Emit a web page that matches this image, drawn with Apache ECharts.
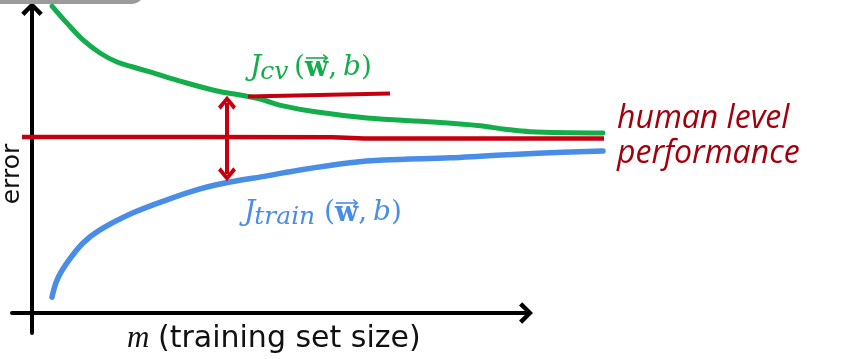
<!DOCTYPE html>
<html>
<head>
<meta charset="utf-8">
<script src="https://cdn.jsdelivr.net/npm/echarts@6/dist/echarts.min.js"></script>
<style>html,body{margin:0;padding:0;background:#fff;}#c{width:855px;height:359px;}</style>
</head>
<body>
<div id="c"></div>
<script>
// ---- data (arbitrary units: x = training set size, y = error) ----
const cvX    = [4, 7, 10.2, 13.6, 17, 20.2, 23.6, 30.2, 37, 41.6, 45.6, 50.2, 57, 67, 80.2, 89.6, 94.6, 99.6, 114.2];
const cvY    = [98.7, 93.2, 87.8, 83.6, 80.7, 79.1, 77.5, 74.3, 71.4, 70.1, 68.8, 66.6, 64.6, 62.7, 61.4, 60.2, 59.1, 58.3, 57.9];
const trainX = [4, 5, 7, 10.2, 13.6, 20.2, 27, 33.6, 39.6, 47, 53.6, 63.6, 70.2, 83.6, 89.6, 96.2, 106.2, 114.2];
const trainY = [5.1, 10.6, 16.1, 22.5, 26.7, 32.2, 36.4, 39.9, 42.1, 44.1, 46.0, 48.3, 49.2, 49.9, 50.4, 51.0, 51.7, 52.1];
const humanX = [-2, 60, 68, 114.4];
const humanY = [56.6, 56.5, 56.1, 56.1];
const cvMarkX = [43.2, 71.6];
const cvMarkY = [69.6, 70.6];
const gapX = 39;
const gapTop = 67.6;
const gapBottom = 44.6;

const subCv = 'cv';
const subTrain = 'train';
const labelHuman = ['human level', 'performance'];
const labelY = 'error';
const labelXVar = 'm';
const labelX = '(training set size)';

// ---- layout helpers ----
const X0 = 32, SX = 5;       // pixel of x=0, px per unit
const Y0 = 313, SY = 3.11;   // pixel of y=0, px per unit
const ux = p => (p - X0) / SX;
const uy = p => (Y0 - p) / SY;

const GREEN = '#14ad4b', BLUE = '#4a8de6', RED = '#c40010', DARKRED = '#a3000e';
const chevron = 'path://M0,10 L10,0 L20,10 L17,13 L10,5.5 L3,13 Z';
const pairs = (xs, ys) => xs.map((x, i) => [x, ys[i]]);

const ctx = document.createElement('canvas').getContext('2d');
function fontStr(f) { return (f.style || 'normal') + ' ' + (f.weight || 'normal') + ' ' + f.size + 'px "' + f.family + '"'; }
function measure(text, f) { ctx.font = fontStr(f); return ctx.measureText(text).width; }
function txt(x, baseline, text, f, color) {
  return {type: 'text', x: x, y: baseline - 0.35 * f.size, z: 50, style: {
    text: text, fontFamily: f.family, fontSize: f.size, fontStyle: f.style || 'normal',
    fontWeight: f.weight || 'normal', fill: color, align: 'left', verticalAlign: 'middle'}};
}
// J_sub(w->, b) built from pieces
function costLabel(xJ, xParen, base, sub, color) {
  const fJ = {family: 'DejaVu Serif', style: 'italic', size: 28};
  const fS = {family: 'DejaVu Serif', style: 'italic', size: 25};
  const fP = {family: 'DejaVu Serif', size: 28};
  const fW = {family: 'DejaVu Serif', weight: 'bold', size: 27};
  const els = [];
  els.push(txt(xJ, base, 'J', fJ, color));
  els.push(txt(xJ + measure('J', fJ) - 1, base + 3, sub, fS, color));
  let x = xParen;
  els.push(txt(x, base, '(', fP, color)); x += measure('(', fP);
  const wx = x, ww = measure('w', fW);
  els.push(txt(x, base, 'w', fW, color)); x += ww;
  els.push(txt(x, base, ', ', fP, color)); x += measure(', ', fP) - 3;
  els.push(txt(x, base, 'b', fJ, color)); x += measure('b', fJ);
  els.push(txt(x, base, ')', fP, color));
  const ay = base - 20;
  els.push({type: 'polyline', z: 50, shape: {points: [[wx + 1, ay], [wx + ww - 1, ay]]},
    style: {stroke: color, lineWidth: 1.6, fill: null}});
  els.push({type: 'polyline', z: 50, shape: {points: [[wx + ww - 5, ay - 3.5], [wx + ww - 1, ay], [wx + ww - 5, ay + 3.5]]},
    style: {stroke: color, lineWidth: 1.6, fill: null}});
  return els;
}

const chart = echarts.init(document.getElementById('c'), null, {renderer: 'canvas'});
const axisBase = {type: 'value', axisTick: {show: false}, axisLabel: {show: false}, splitLine: {show: false}};

const fX = {family: 'DejaVu Sans', size: 30};
const fM = {family: 'Liberation Serif', style: 'italic', size: 31};

const option = {
  backgroundColor: '#fff',
  animation: false,
  grid: [
    {left: 12, top: 9, width: 526 - 12, height: 333 - 9},
    {left: 12, top: 2, width: 612 - 12, height: 333 - 2}
  ],
  xAxis: [
    Object.assign({}, axisBase, {gridIndex: 0, min: ux(12), max: ux(526),
      axisLine: {show: true, onZero: true, symbol: ['none', chevron], symbolSize: [22, 14],
        lineStyle: {color: '#000', width: 4}}}),
    Object.assign({}, axisBase, {gridIndex: 1, min: ux(12), max: ux(612), axisLine: {show: false}})
  ],
  yAxis: [
    Object.assign({}, axisBase, {gridIndex: 0, min: uy(333), max: uy(9),
      axisLine: {show: true, onZero: true, symbol: ['none', chevron], symbolSize: [22, 14],
        lineStyle: {color: '#000', width: 4}}}),
    Object.assign({}, axisBase, {gridIndex: 1, min: uy(333), max: uy(2), axisLine: {show: false}})
  ],
  series: [
    {type: 'line', xAxisIndex: 1, yAxisIndex: 1, data: pairs(humanX, humanY), smooth: 0.3,
      showSymbol: false, lineStyle: {color: RED, width: 4.5}, z: 3},
    {type: 'line', xAxisIndex: 1, yAxisIndex: 1, data: pairs(cvX, cvY), smooth: 0.35,
      showSymbol: false, lineStyle: {color: GREEN, width: 5, cap: 'round', join: 'round'}, z: 4},
    {type: 'line', xAxisIndex: 1, yAxisIndex: 1, data: pairs(trainX, trainY), smooth: 0.35,
      showSymbol: false, lineStyle: {color: BLUE, width: 5.5, cap: 'round', join: 'round'}, z: 4},
    {type: 'line', xAxisIndex: 1, yAxisIndex: 1, data: pairs(cvMarkX, cvMarkY),
      showSymbol: false, lineStyle: {color: RED, width: 4}, z: 5},
    {type: 'line', xAxisIndex: 1, yAxisIndex: 1, data: [], z: 6,
      markLine: {
        silent: true, symbol: [chevron, chevron], symbolSize: [18, 14], label: {show: false},
        lineStyle: {color: RED, width: 4, type: 'solid'},
        data: [[{coord: [gapX, gapTop]}, {coord: [gapX, gapBottom]}]]
      }}
  ],
  graphic: [
    {type: 'rect', shape: {x: -20, y: -30, width: 165, height: 34, r: 14}, style: {fill: '#9b9b9b'}, z: 100}
  ].concat(
    costLabel(250, 294, 78, subCv, GREEN),
    costLabel(244, 324, 223, subTrain, BLUE),
    [
      {type: 'text', x: 617, y: 101, z: 50, style: {
        text: labelHuman.join('\n'), fontFamily: 'Open Sans', fontStyle: 'italic', fontSize: 32, lineHeight: 35, fill: DARKRED}},
      {type: 'text', x: 12, y: 174, rotation: Math.PI / 2, z: 50, style: {
        text: labelY, fontFamily: 'DejaVu Sans', fontSize: 25, fill: '#111', align: 'center', verticalAlign: 'middle'}},
      txt(127, 350, labelXVar, fM, '#111'),
      txt(158, 350, labelX, fX, '#111')
    ]
  )
};
chart.setOption(option);
</script>
</body>
</html>
